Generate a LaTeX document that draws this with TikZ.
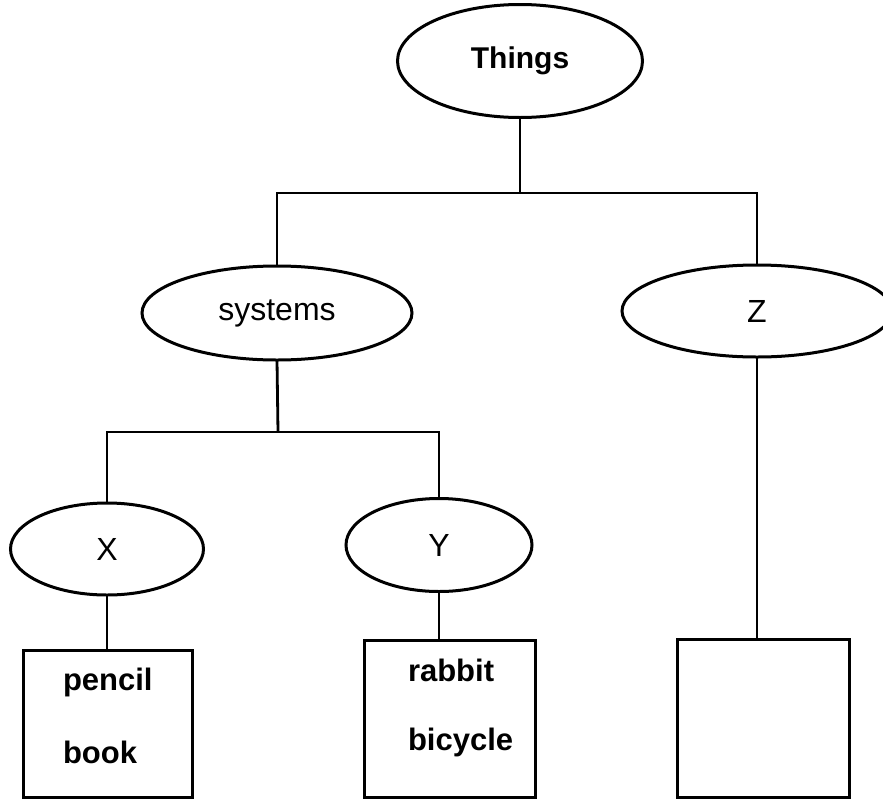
\documentclass[tikz,border=0pt]{standalone}
\usepackage{fontspec}
\setmainfont{Liberation Sans}
\usetikzlibrary{shapes.geometric}
\begin{document}
\begin{tikzpicture}[x=1pt,y=-1pt,
  every node/.style={inner sep=0pt,outer sep=0pt,font=\fontsize{32}{38}\selectfont},
  oval/.style={draw,ellipse,line width=3pt},
  leaf/.style={draw,rectangle,line width=3pt},
  item/.style={anchor=west,font=\fontsize{31}{37}\selectfont\bfseries},
  link/.style={line width=2.8pt}]
\useasboundingbox (0,0) rectangle (883,798);
\clip (0,0) rectangle (883,798);
\node[oval,minimum width=245,minimum height=113,font=\fontsize{30}{36}\selectfont\bfseries] (things) at (520,61) {Things};
\node[oval,minimum width=270,minimum height=94] (systems) at (277,313) {systems};
\node[oval,minimum width=270,minimum height=92] (z) at (757,311) {Z};
\node[oval,minimum width=193,minimum height=92] (x) at (107,549) {X};
\node[oval,minimum width=186,minimum height=93] (y) at (439,545) {Y};
\node[leaf,minimum width=169,minimum height=147] (bx) at (107.5,723.5) {};
\node[leaf,minimum width=171,minimum height=157] (by) at (449.5,718.5) {};
\node[leaf,minimum width=172,minimum height=158] (bz) at (763,718) {};
\node[item] (pencil) at (63,682) {pencil};
\node[item] (book) at (63,752) {book};
\node[item] (rabbit) at (408,670) {rabbit};
\node[item] (bicycle) at (408,742) {bicycle};
\coordinate (b1) at (520,193);
\coordinate (b2) at (278,432);
\draw[link] (things.south) -- (b1);
\draw[link] (b1) -| (systems.north);
\draw[link] (b1) -| (z.north);
\draw[link] (systems.south) -- (b2);
\draw[link] (b2) -| (x.north);
\draw[link] (b2) -| (y.north);
\draw[link] (x.south) -- (x.south |- bx.north);
\draw[link] (y.south) -- (y.south |- by.north);
\draw[link] (z.south) -- (z.south |- bz.north);
\end{tikzpicture}
\end{document}
